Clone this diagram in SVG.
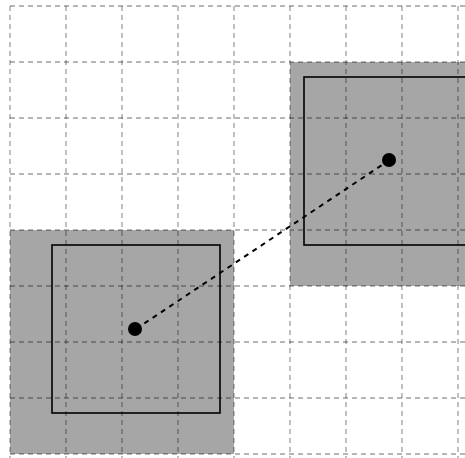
<svg xmlns="http://www.w3.org/2000/svg" width="465" height="458" viewBox="0 0 465 458">
<style>
.region{fill:#a6a6a6;stroke:none}
.grid line{stroke:#000;stroke-opacity:0.38;stroke-width:1.3;stroke-dasharray:5 4}
.box{fill:none;stroke:#000;stroke-width:1.6}
.dot{fill:#000}
.conn{stroke:#000;stroke-width:2;stroke-dasharray:5 5;fill:none}
</style>
<rect width="465" height="458" fill="#fff"/>
<g id="regions">
<rect class="region" x="290" y="62" width="175" height="224"/>
<rect class="region" x="10" y="230" width="224" height="224"/>
</g>
<g class="grid">
<line x1="10" y1="6" x2="10" y2="458"/>
<line x1="66" y1="6" x2="66" y2="458"/>
<line x1="122" y1="6" x2="122" y2="458"/>
<line x1="178" y1="6" x2="178" y2="458"/>
<line x1="234" y1="6" x2="234" y2="458"/>
<line x1="290" y1="6" x2="290" y2="458"/>
<line x1="346" y1="6" x2="346" y2="458"/>
<line x1="402" y1="6" x2="402" y2="458"/>
<line x1="458" y1="6" x2="458" y2="458"/>
<line x1="10" y1="6" x2="465" y2="6"/>
<line x1="10" y1="62" x2="465" y2="62"/>
<line x1="10" y1="118" x2="465" y2="118"/>
<line x1="10" y1="174" x2="465" y2="174"/>
<line x1="10" y1="230" x2="465" y2="230"/>
<line x1="10" y1="286" x2="465" y2="286"/>
<line x1="10" y1="342" x2="465" y2="342"/>
<line x1="10" y1="398" x2="465" y2="398"/>
<line x1="10" y1="454" x2="465" y2="454"/>
</g>
<g id="connectors">
<line class="conn" x1="136" y1="329" x2="388" y2="161"/>
</g>
<g id="nodeA">
<rect class="box" x="52" y="245" width="168" height="168"/>
<circle class="dot" cx="135" cy="329" r="7"/>
</g>
<g id="nodeB">
<rect class="box" x="304" y="77" width="168" height="168"/>
<circle class="dot" cx="389" cy="160" r="7"/>
</g>
</svg>
